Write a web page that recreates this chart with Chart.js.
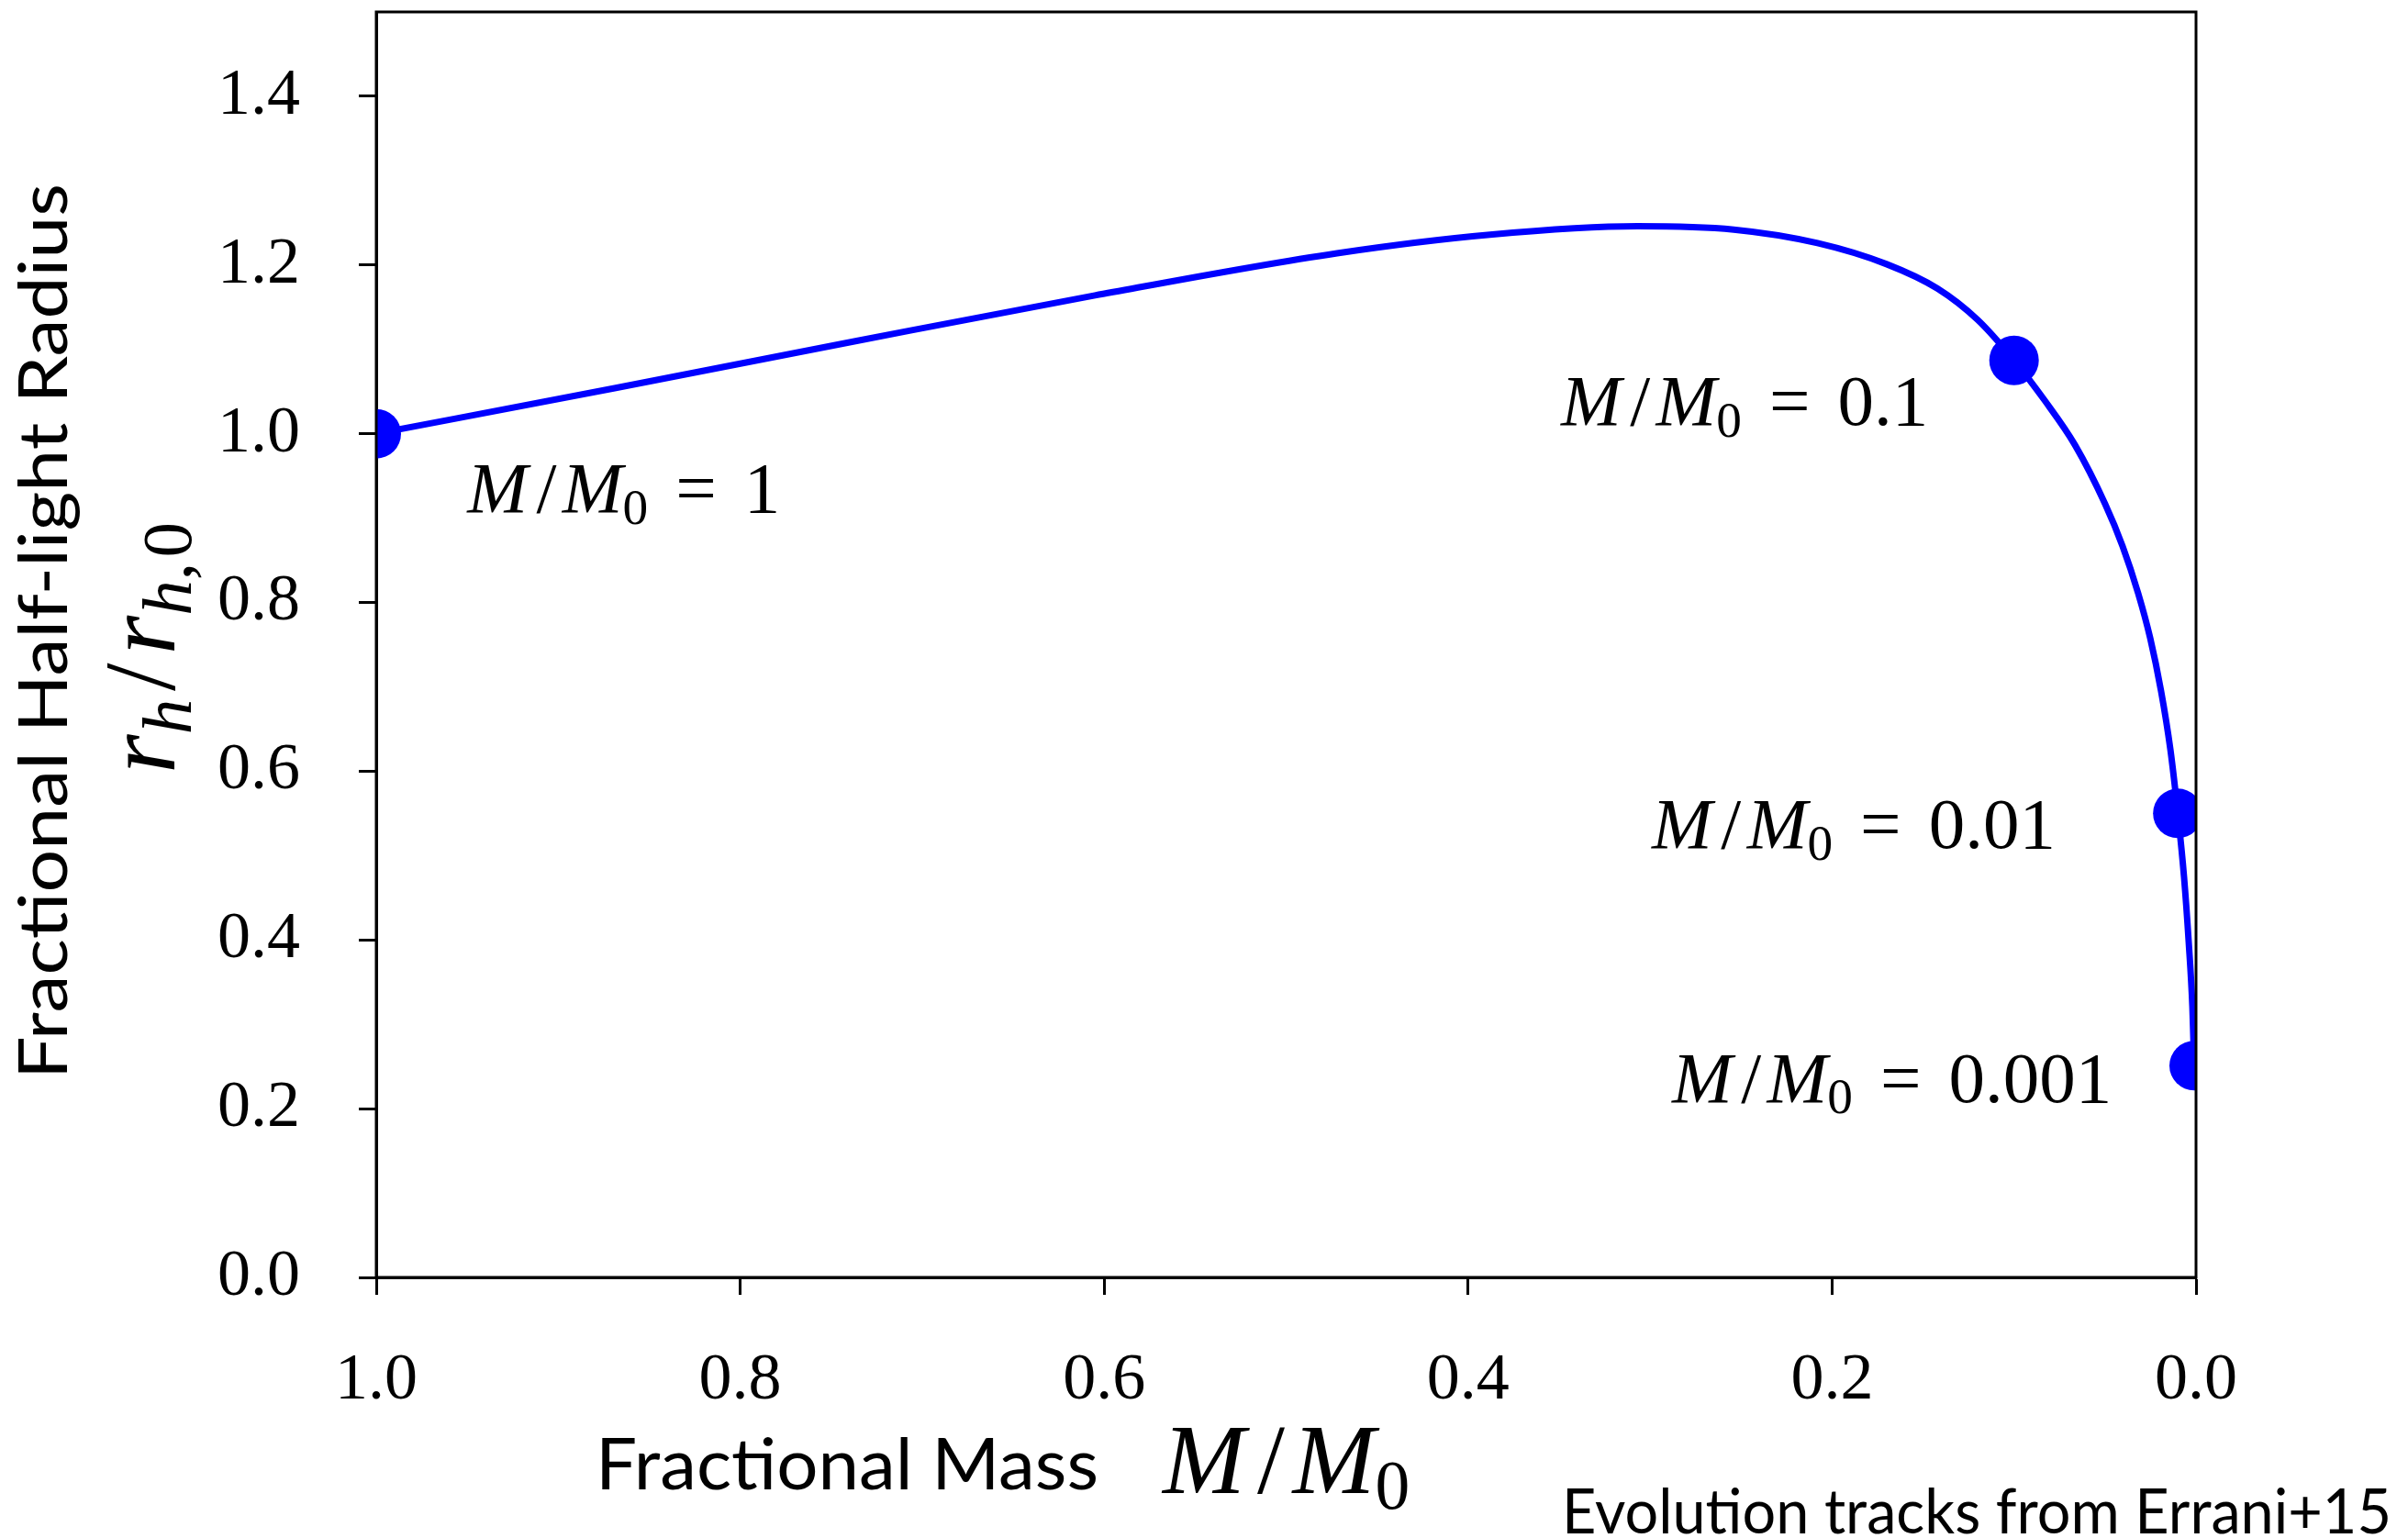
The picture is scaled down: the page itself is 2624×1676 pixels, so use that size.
<!DOCTYPE html>
<html>
<head>
<meta charset="utf-8">
<script src="https://cdn.jsdelivr.net/npm/chart.js@4.4.1/dist/chart.umd.min.js"></script>
<style>
  html, body { margin: 0; padding: 0; background: #fff; }
  #wrap { width: 2624px; height: 1676px; }
</style>
</head>
<body>
<div id="wrap"><canvas id="myChart1" width="2624" height="1676"></canvas></div>
<script>
// evolution track (fraction of initial mass -> r_h / r_h,0)
const massFrac   = [1.0, 0.869, 0.736, 0.605, 0.472, 0.388, 0.307, 0.254, 0.208, 0.17, 0.142, 0.12, 0.1, 0.083, 0.0666, 0.05, 0.0404, 0.0318, 0.0252, 0.0192, 0.0141, 0.01, 0.0066, 0.004, 0.002, 0.001];
const radiusFrac = [1.0, 1.054, 1.110, 1.164, 1.214, 1.236, 1.246, 1.242, 1.226, 1.201, 1.172, 1.135, 1.087, 1.039, 0.987, 0.917, 0.867, 0.811, 0.758, 0.695, 0.626, 0.550, 0.475, 0.397, 0.321, 0.251];

// highlighted stages along the track
const markerMass   = [1, 0.1, 0.01, 0.001];
const markerRadius = [1.0, 1.087, 0.550, 0.251];
const markerText   = ['1', '0.1', '0.01', '0.001'];

const xTicks = [1.0, 0.8, 0.6, 0.4, 0.2, 0.0];
const yTicks = [0.0, 0.2, 0.4, 0.6, 0.8, 1.0, 1.2, 1.4];

const BLUE = '#0000ff';
const SERIF = '"Liberation Serif", "DejaVu Serif", serif';
const SANS = 'Lato, "Open Sans", sans-serif';

// where the "M/M0 = ..." notes sit (data coords, left end of text baseline)
const notePos = [
    { x: 0.950, y: 0.907 },
    { x: 0.349, y: 1.010 },
    { x: 0.299, y: 0.509 },
    { x: 0.288, y: 0.208 }
];

// draw a little TeX-like formula, returns its width
function mathRun(ctx, parts, x, y, size, draw) {
    let cx = x;
    parts.forEach(p => {
        const s = p.sub ? size * 0.7 : size;
        ctx.font = (p.it ? 'italic ' : '') + s + 'px ' + SERIF;
        const pad = (p.pad || 0) * size;
        cx += pad;
        if (draw) ctx.fillText(p.t, cx, y + (p.sub ? size * 0.16 : 0));
        cx += ctx.measureText(p.t).width + pad + (p.kern || 0) * size;
    });
    return cx - x;
}

function massFormula(val) {
    const parts = [
        { t: 'M', it: true, kern: 0.04 },
        { t: '/', pad: 0.08 },
        { t: 'M', it: true },
        { t: '0', sub: true }
    ];
    if (val !== undefined) {
        parts.push({ t: '=', pad: 0.38 });
        parts.push({ t: val });
    }
    return parts;
}

// sans text squeezed/stretched to the width it has in the figure
function fitText(ctx, text, x, y, size, width, rot) {
    ctx.save();
    ctx.font = size + 'px ' + SANS;
    const w = ctx.measureText(text).width;
    ctx.translate(x, y);
    if (rot) ctx.rotate(-Math.PI / 2);
    ctx.scale(width / w, 1);
    ctx.textAlign = rot ? 'center' : 'left';
    ctx.fillText(text, 0, 0);
    ctx.restore();
}

const framePlugin = {
    id: 'frame',
    afterDatasetsDraw(chart) {
        const a = chart.chartArea;
        const c = chart.ctx;
        c.save();
        c.strokeStyle = '#000';
        c.lineWidth = 3;
        c.strokeRect(a.left, a.top, a.right - a.left, a.bottom - a.top);
        c.restore();
    }
};

const textPlugin = {
    id: 'texts',
    afterDraw(chart) {
        const c = chart.ctx;
        const xs = chart.scales.x, ys = chart.scales.y;
        c.save();
        c.fillStyle = '#000';
        c.textBaseline = 'alphabetic';
        c.textAlign = 'left';

        // notes next to the markers
        markerText.forEach((v, i) => {
            const px = xs.getPixelForValue(notePos[i].x);
            const py = ys.getPixelForValue(notePos[i].y);
            mathRun(c, massFormula(v), px, py, 79, true);
        });

        // x axis title
        fitText(c, 'Fractional Mass', 649, 1623, 77, 548, false);
        mathRun(c, massFormula(), 1267, 1627, 108, true);

        // y axis title
        fitText(c, 'Fractional Half-light Radius', 73, 688, 74, 976, true);
        const yParts = [
            { t: 'r', it: true },
            { t: 'h', it: true, sub: true },
            { t: '/', pad: 0.08 },
            { t: 'r', it: true },
            { t: 'h', it: true, sub: true },
            { t: ',', sub: true, kern: 0.05 },
            { t: '0', sub: true }
        ];
        c.save();
        c.translate(190, 706);
        c.rotate(-Math.PI / 2);
        const w = mathRun(c, yParts, 0, 0, 110, false);
        mathRun(c, yParts, -w / 2, 0, 110, true);
        c.restore();

        // credit line
        fitText(c, 'Evolution tracks from Errani+15', 1702, 1671, 68, 904, false);
        c.restore();
    }
};

let myChart1;
document.addEventListener('DOMContentLoaded', function() {
    const ctx = document.getElementById('myChart1').getContext('2d');
    myChart1 = new Chart(ctx, {
        type: 'scatter',
        data: {
            datasets: [
                {
                    type: 'line',
                    data: massFrac.map((m, i) => ({ x: m, y: radiusFrac[i] })),
                    borderColor: BLUE,
                    borderWidth: 7,
                    pointRadius: 0,
                    fill: false,
                    cubicInterpolationMode: 'monotone',
                    clip: 0
                },
                {
                    type: 'scatter',
                    data: markerMass.map((m, i) => ({ x: m, y: markerRadius[i] })),
                    backgroundColor: BLUE,
                    borderWidth: 0,
                    pointRadius: 27,
                    clip: 0
                }
            ]
        },
        options: {
            responsive: false,
            animation: false,
            devicePixelRatio: 1,
            layout: { autoPadding: false, padding: { left: 0, right: 231, top: 13, bottom: 0 } },
            plugins: {
                legend: { display: false },
                tooltip: { enabled: false }
            },
            scales: {
                x: {
                    type: 'linear',
                    reverse: true,
                    min: 0,
                    max: 1,
                    afterBuildTicks: s => { s.ticks = xTicks.map(v => ({ value: v })); },
                    afterFit: s => { s.height = 284; s.paddingLeft = 0; s.paddingRight = 0; },
                    ticks: {
                        color: '#000',
                        font: { family: SERIF, size: 72 },
                        padding: 51,
                        maxRotation: 0,
                        callback: v => v.toFixed(1)
                    },
                    grid: { display: true, drawOnChartArea: false, drawTicks: true, tickLength: 19, tickWidth: 3, tickColor: '#000' },
                    border: { display: true, color: '#000', width: 3 }
                },
                y: {
                    type: 'linear',
                    min: 0,
                    max: 1.5,
                    afterBuildTicks: s => { s.ticks = yTicks.map(v => ({ value: v })); },
                    afterFit: s => { s.width = 410; s.paddingTop = 0; s.paddingBottom = 0; },
                    ticks: {
                        color: '#000',
                        font: { family: SERIF, size: 72 },
                        padding: 64,
                        callback: v => v.toFixed(1)
                    },
                    grid: { display: true, drawOnChartArea: false, drawTicks: true, tickLength: 19, tickWidth: 3, tickColor: '#000' },
                    border: { display: true, color: '#000', width: 3 }
                }
            }
        },
        plugins: [framePlugin, textPlugin]
    });
});
</script>
</body>
</html>
